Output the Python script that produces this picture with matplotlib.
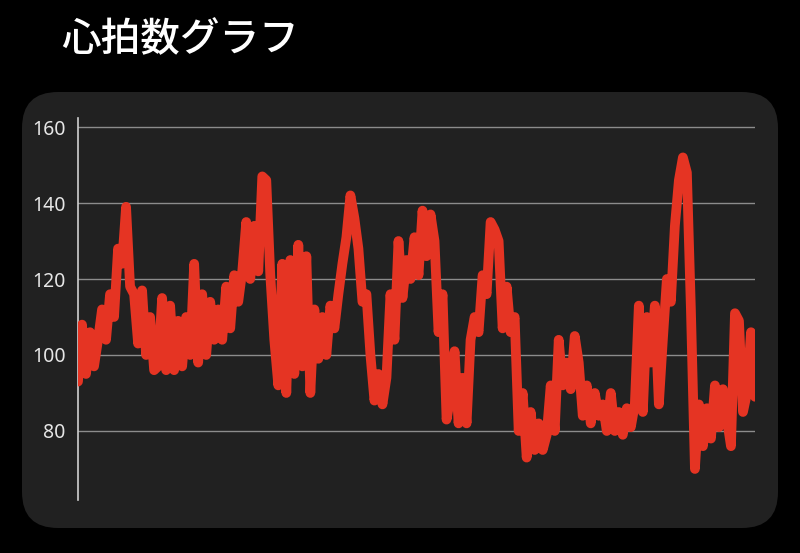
import matplotlib
matplotlib.use("Agg")
import matplotlib.pyplot as plt
from matplotlib.patches import FancyBboxPatch

title = "心拍数グラフ"
y_ticks = [80, 100, 120, 140, 160]
heart_rate = [
    93, 108, 95, 106, 97, 104, 112, 104, 116, 110,
    128, 124, 139, 118, 116, 103, 117, 100, 110, 96,
    97, 115, 96, 113, 96, 109, 97, 110, 100, 124,
    98, 116, 100, 114, 104, 112, 104, 118, 107, 121,
    114, 122, 135, 120, 134, 122, 147, 146, 121, 104,
    92, 124, 90, 125, 95, 129, 97, 126, 90, 112,
    99, 110, 100, 113, 107, 116, 124, 131, 142, 136,
    128, 114, 116, 100, 88, 95, 87, 94, 116, 104,
    130, 115, 125, 120, 131, 121, 138, 126, 137, 130,
    106, 116, 83, 89, 101, 82, 94, 82, 104, 110,
    106, 121, 116, 135, 133, 130, 107, 118, 106, 110,
    80, 90, 73, 85, 75, 82, 75, 79, 92, 80,
    104, 92, 98, 91, 105, 98, 84, 92, 82, 90,
    84, 87, 80, 90, 80, 85, 79, 86, 81, 87,
    113, 85, 110, 98, 113, 87, 104, 120, 114, 134,
    146, 152, 148, 112, 70, 87, 76, 86, 78, 92,
    81, 91, 83, 76, 111, 109, 85, 90, 106, 89,
]
samples = list(range(len(heart_rate)))

W, H = 800, 553
fig = plt.figure(figsize=(W / 100, H / 100), dpi=100)
fig.patch.set_facecolor("black")

# rounded panel
px0, py0, px1, py1 = 22, 92, 778, 528
panel = FancyBboxPatch((px0 / W, 1 - py1 / H), (px1 - px0) / W, (py1 - py0) / H,
                       boxstyle="round,pad=0,rounding_size=0.045",
                       transform=fig.transFigure, facecolor="#212121",
                       edgecolor="none", zorder=-10,
                       mutation_aspect=W / H)
fig.patches.append(panel)

fig.text(61 / W, 1 - 40 / H, title, color="white", fontsize=28.5,
         fontweight="medium", family=["Noto Sans CJK JP", "DejaVu Sans"],
         va="center", ha="left")

ax = fig.add_axes([78 / W, (H - 500) / H, 677 / W, 382 / H])
ax.set_zorder(5)
ax.set_facecolor("none")
ax.plot(samples, heart_rate, color="#e53423", linewidth=7.0,
        solid_capstyle="round", solid_joinstyle="round", zorder=3)
ax.set_xlim(0, len(heart_rate) - 1)
ax.set_ylim(61.84, 162.37)
ax.set_yticks(y_ticks)
ax.set_yticklabels([str(t) for t in y_ticks], color="#e6e6e6",
                   fontsize=14, family="Noto Sans")
ax.tick_params(axis="y", length=0, pad=9)
ax.set_xticks([])
ax.grid(axis="y", color="#8c8c8c", linewidth=1.0)
ax.set_axisbelow(True)
for s in ["top", "right", "bottom"]:
    ax.spines[s].set_visible(False)
ax.spines["left"].set_color("#d0d0d0")
ax.spines["left"].set_linewidth(1.2)

fig.savefig("out.png", dpi=100, facecolor=fig.get_facecolor())
